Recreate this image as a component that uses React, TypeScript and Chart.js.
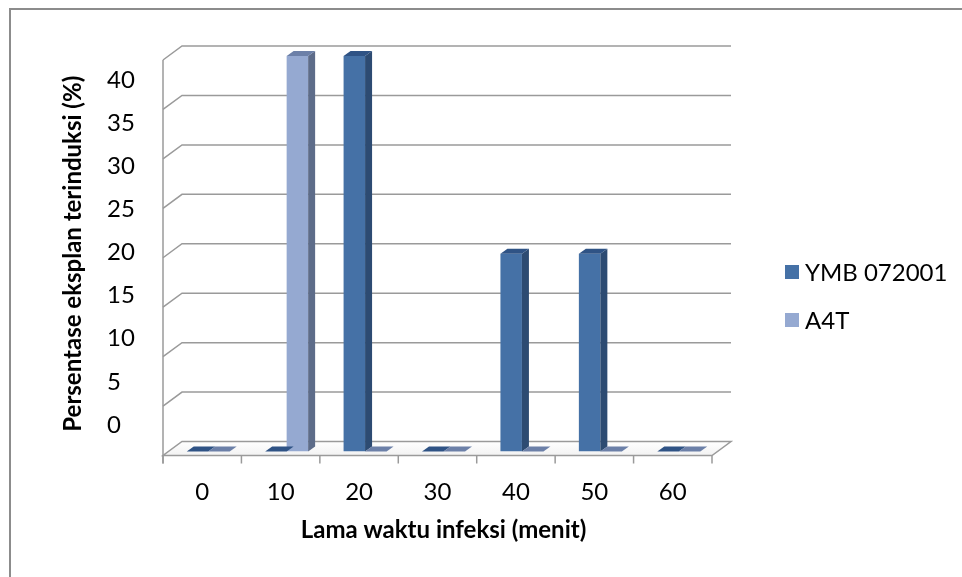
import React, { useEffect, useRef } from 'react';
import { Chart, registerables } from 'chart.js';

Chart.register(...registerables);

// ---- data ----
const categories = ['0', '10', '20', '30', '40', '50', '60'];
const seriesNames = ['YMB 072001', 'A4T'];
const ymbValues = [0, 0, 40, 0, 20, 20, 0];
const a4tValues = [0, 40, 0, 0, 0, 0, 0];
const yTickValues = [0, 5, 10, 15, 20, 25, 30, 35, 40];
const yAxisTitle = 'Persentase eksplan terinduksi (%)';
const xAxisTitle = 'Lama waktu infeksi (menit)';

// ---- styles ----
const FONT = 'Lato, "Open Sans", sans-serif';
const FONT_SIZE = 24;
const GRID = '#9A9A9A';
const faceColors = [
  { front: '#4571A6', side: '#2D4B72', top: '#2F5385' },
  { front: '#95A9D1', side: '#5D6C89', top: '#6C80A8' },
];
// 3D offsets relative to the bar plane (chart area)
const FRONT = { dx: -6, dy: 4 };
const BACK = { dx: 13, dy: -10 };
const BAR_DEPTH = { dx: 7, dy: -5 };

const borderPlugin = {
  id: 'outerBorder',
  beforeDraw(chart: any) {
    const { ctx, width, height } = chart;
    ctx.save();
    ctx.fillStyle = '#ffffff';
    ctx.fillRect(0, 0, width, height);
    ctx.strokeStyle = '#8C8C8C';
    ctx.lineWidth = 2;
    ctx.beginPath();
    ctx.moveTo(width, 9);
    ctx.lineTo(10, 9);
    ctx.lineTo(10, height);
    ctx.stroke();
    ctx.restore();
  },
};

const threeDPlugin = {
  id: 'threeD',
  beforeDatasetsDraw(chart: any) {
    const { ctx, chartArea, scales } = chart;
    const ys = scales.y;
    const xs = scales.x;
    const L = chartArea.left;
    const R = chartArea.right;
    const p0 = ys.getPixelForValue(0);
    const pTop = ys.getPixelForValue(yTickValues[yTickValues.length - 1]);
    ctx.save();
    ctx.strokeStyle = GRID;
    ctx.lineWidth = 1.5;
    ctx.lineJoin = 'miter';

    // floor
    ctx.beginPath();
    ctx.moveTo(L + FRONT.dx, p0 + FRONT.dy);
    ctx.lineTo(R + FRONT.dx, p0 + FRONT.dy);
    ctx.lineTo(R + BACK.dx, p0 + BACK.dy);
    ctx.lineTo(L + BACK.dx, p0 + BACK.dy);
    ctx.closePath();
    const grad = ctx.createLinearGradient(0, p0 + BACK.dy, 0, p0 + FRONT.dy);
    grad.addColorStop(0, '#ffffff');
    grad.addColorStop(1, '#f2f2f2');
    ctx.fillStyle = grad;
    ctx.fill();
    ctx.stroke();

    // back wall gridlines + side wall connectors
    for (const v of yTickValues) {
      if (v === 0) continue;
      const p = ys.getPixelForValue(v);
      ctx.beginPath();
      ctx.moveTo(L + FRONT.dx, p + FRONT.dy);
      ctx.lineTo(L + BACK.dx, p + BACK.dy);
      ctx.lineTo(R + BACK.dx, p + BACK.dy);
      ctx.stroke();
    }

    // front vertical axis
    ctx.beginPath();
    ctx.moveTo(L + FRONT.dx, pTop + FRONT.dy);
    ctx.lineTo(L + FRONT.dx, p0 + FRONT.dy + 8);
    ctx.stroke();

    // x tick marks at category boundaries (front edge)
    const n = categories.length;
    const band = (R - L) / n;
    for (let i = 0; i <= n; i++) {
      const bx = (i < n ? xs.getPixelForValue(i) - band / 2 : xs.getPixelForValue(n - 1) + band / 2) + FRONT.dx;
      ctx.beginPath();
      ctx.moveTo(bx, p0 + FRONT.dy);
      ctx.lineTo(bx, p0 + FRONT.dy + 8);
      ctx.stroke();
    }
    ctx.restore();
  },
  afterDatasetsDraw(chart: any) {
    const { ctx } = chart;
    ctx.save();
    const n = categories.length;
    for (let i = 0; i < n; i++) {
      chart.data.datasets.forEach((_ds: any, d: number) => {
        const el = chart.getDatasetMeta(d).data[i];
        if (!el) return;
        const { x, y, base, width } = el.getProps(['x', 'y', 'base', 'width'], true);
        const l = x - width / 2;
        const r = x + width / 2;
        const c = faceColors[d];
        // side face
        if (base - y > 0.5) {
          ctx.fillStyle = c.side;
          ctx.beginPath();
          ctx.moveTo(r, y);
          ctx.lineTo(r + BAR_DEPTH.dx, y + BAR_DEPTH.dy);
          ctx.lineTo(r + BAR_DEPTH.dx, base + BAR_DEPTH.dy);
          ctx.lineTo(r, base);
          ctx.closePath();
          ctx.fill();
        }
        // top face
        ctx.fillStyle = c.top;
        ctx.beginPath();
        ctx.moveTo(l, y);
        ctx.lineTo(l + BAR_DEPTH.dx, y + BAR_DEPTH.dy);
        ctx.lineTo(r + BAR_DEPTH.dx, y + BAR_DEPTH.dy);
        ctx.lineTo(r, y);
        ctx.closePath();
        ctx.fill();
      });
    }
    ctx.restore();
  },
};

const legendPlugin = {
  id: 'sideLegend',
  afterDraw(chart: any) {
    const { ctx } = chart;
    ctx.save();
    chart.data.datasets.forEach((ds: any, i: number) => {
      const cy = 272 + i * 48;
      ctx.fillStyle = ds.backgroundColor;
      ctx.fillRect(785, cy - 7, 14, 14);
      ctx.fillStyle = '#000000';
      ctx.font = `${FONT_SIZE}px ${FONT}`;
      ctx.textAlign = 'left';
      ctx.textBaseline = 'middle';
      ctx.fillText(ds.label, 805, cy + 1);
    });
    ctx.restore();
  },
};

export default function App() {
  const canvasRef = useRef<HTMLCanvasElement | null>(null);

  useEffect(() => {
    const canvas = canvasRef.current;
    if (!canvas) return;
    const chart = new Chart(canvas, {
      type: 'bar',
      data: {
        labels: categories,
        datasets: [
          {
            label: seriesNames[0],
            data: ymbValues,
            backgroundColor: faceColors[0].front,
            borderWidth: 0,
            categoryPercentage: 0.548,
            barPercentage: 1,
            xAxisID: 'x',
            yAxisID: 'y',
          },
          {
            label: seriesNames[1],
            data: a4tValues,
            backgroundColor: faceColors[1].front,
            borderWidth: 0,
            categoryPercentage: 0.548,
            barPercentage: 1,
            xAxisID: 'x',
            yAxisID: 'y',
          },
        ],
      },
      options: {
        responsive: false,
        animation: false,
        devicePixelRatio: 1,
        layout: { padding: { left: 0, top: 56, right: 244, bottom: 25.5 } },
        plugins: {
          legend: { display: false },
          tooltip: { enabled: false },
        },
        scales: {
          x: {
            type: 'category',
            offset: true,
            grid: { display: false, drawTicks: false },
            border: { display: false },
            ticks: {
              font: { family: FONT, size: FONT_SIZE },
              color: '#000000',
              padding: 26,
              labelOffset: FRONT.dx,
              maxRotation: 0,
              autoSkip: false,
            },
            title: {
              display: true,
              text: xAxisTitle,
              color: '#000000',
              font: { family: FONT, size: FONT_SIZE, weight: 'bold' },
              padding: { top: 0, bottom: 7 },
            },
            afterFit: (s: any) => {
              s.height = 100;
            },
          },
          y: {
            type: 'linear',
            display: false,
            min: 0,
            max: 40,
          },
          yl: {
            type: 'linear',
            position: 'left',
            weight: 1,
            min: -3.072,
            max: 42.784,
            grid: { display: false, drawTicks: false },
            border: { display: false },
            ticks: {
              font: { family: FONT, size: FONT_SIZE },
              color: '#000000',
              crossAlign: 'far',
            },
            afterBuildTicks: (axis: any) => {
              axis.ticks = yTickValues.map((v) => ({ value: v }));
            },
            afterFit: (s: any) => {
              s.width = 62;
            },
          },
          yt: {
            type: 'linear',
            position: 'left',
            weight: 2,
            grid: { display: false, drawTicks: false },
            border: { display: false },
            ticks: { display: false },
            title: {
              display: true,
              text: yAxisTitle,
              color: '#000000',
              font: { family: FONT, size: FONT_SIZE, weight: 'bold' },
              padding: { top: 58.6, bottom: 0 },
            },
            afterFit: (s: any) => {
              s.width = 107;
            },
          },
        },
      } as any,
      plugins: [borderPlugin, threeDPlugin, legendPlugin],
    });
    return () => chart.destroy();
  }, []);

  return (
    <div style={{ position: 'fixed', left: 0, top: 0, width: 962, height: 577, background: '#fff' }}>
      <canvas ref={canvasRef} width={962} height={577} style={{ display: 'block' }} />
    </div>
  );
}
